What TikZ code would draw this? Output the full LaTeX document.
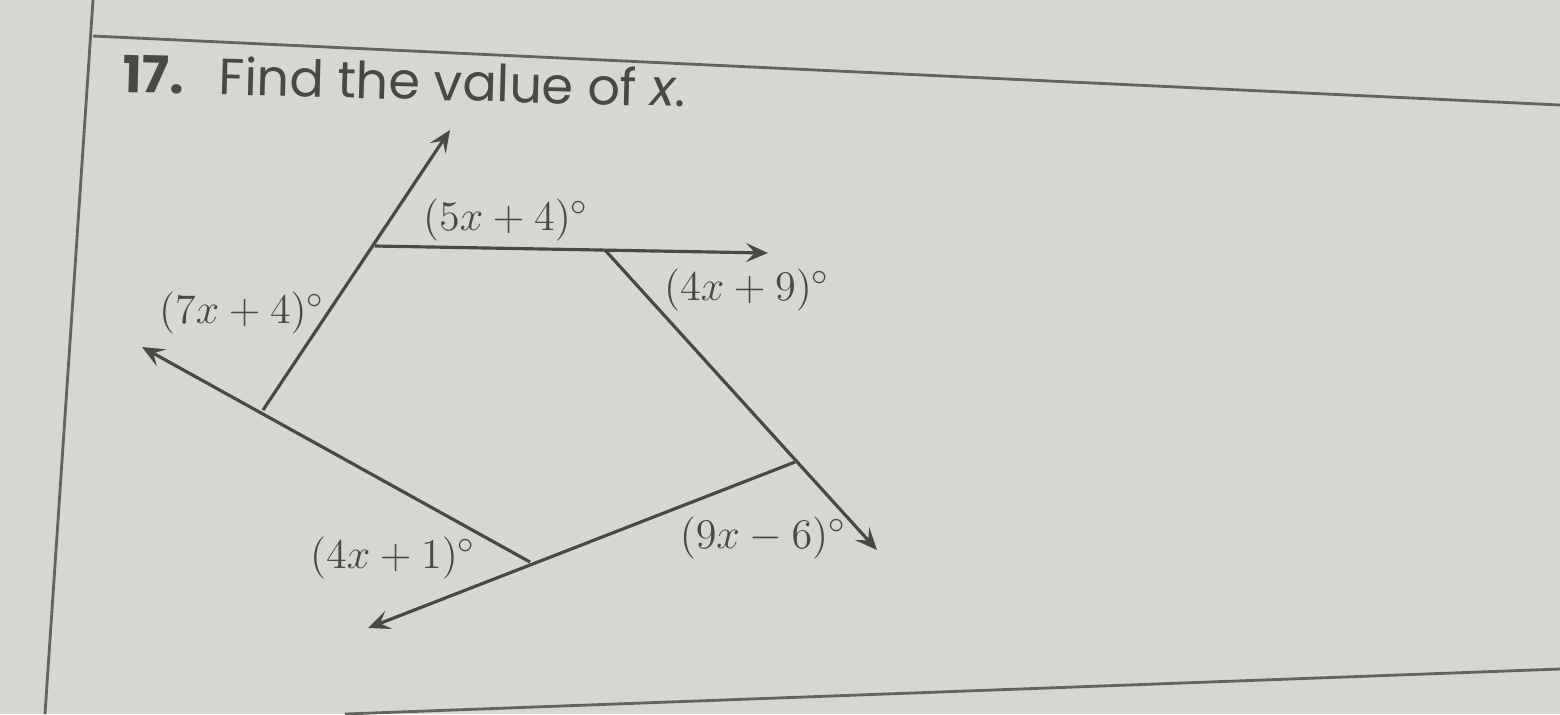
\documentclass[tikz,border=0pt]{standalone}
\usepackage{fontspec}
\newfontfamily\titlefont{Poppins}
\usepackage{tikz}
\usetikzlibrary{arrows.meta}
\usetikzlibrary{calc}
\definecolor{paper}{RGB}{213,215,209}
\definecolor{ink}{RGB}{72,72,70}

\begin{document}
\begin{tikzpicture}[
    % 以像素為單位
    x=0.1mm, y=-0.1mm,
    % 射線樣式
    ray/.style={
        draw=ink,
        line width=0.9pt,
        -{Stealth[length=2.2mm, width=1.9mm, inset=0.9mm]}
    },
    % 紙上格線樣式
    rule/.style={draw=ink!85, line width=0.8pt},
    % 角度標籤樣式
    angle label/.style={
        text=ink,
        inner sep=0pt,
        font=\fontsize{12.5}{15}\selectfont
    }
]

% --- 背景紙張 ---
\fill[paper] (0,0) rectangle (1560,714);
\useasboundingbox (0,0) rectangle (1560,714);

% --- 紙上格線 ---
\coordinate (m top) at (93,0);
\coordinate (m bot) at (45,714);
\coordinate (r1 a) at (93,36);
\coordinate (r1 b) at (1560,105);
\coordinate (r2 a) at (345,714);
\coordinate (r2 b) at (1560,669);
\draw[rule] (m top) -- (m bot);
\draw[rule] (r1 a) -- (r1 b);
\draw[rule] (r2 a) -- (r2 b);

% --- 題目 ---
\node[anchor=base west, inner sep=0pt, text=ink, rotate=-1.5] (title) at (122,92)
    {\titlefont\fontsize{14.5}{17}\selectfont\bfseries 17.\hspace{10pt}\mdseries Find the value of \textit{x}.};

% --- 五邊形頂點 ---
\coordinate (A) at (375,246);
\coordinate (B) at (605,250);
\coordinate (C) at (795,462);
\coordinate (D) at (530,562);
\coordinate (E) at (263,410);

% --- 箭頭端點 ---
\coordinate (A tip) at (450,130);
\coordinate (B tip) at (768,253);
\coordinate (C tip) at (877,550);
\coordinate (D tip) at (368,628);
\coordinate (E tip) at (142,347);

% --- 射線 ---
\draw[ray] (E) -- (A tip);
\draw[ray] (A) -- (B tip);
\draw[ray] (B) -- (C tip);
\draw[ray] (C) -- (D tip);
\draw[ray] (D) -- (E tip);

% --- 外角標籤 ---
\node[angle label] (lab A) at (506,220) {$(5x+4)^\circ$};
\node[angle label] (lab B) at (747,290) {$(4x+9)^\circ$};
\node[angle label] (lab C) at (763,538) {$(9x-6)^\circ$};
\node[angle label] (lab D) at (393,558) {$(4x+1)^\circ$};
\node[angle label] (lab E) at (242,313) {$(7x+4)^\circ$};

\end{tikzpicture}
\end{document}
